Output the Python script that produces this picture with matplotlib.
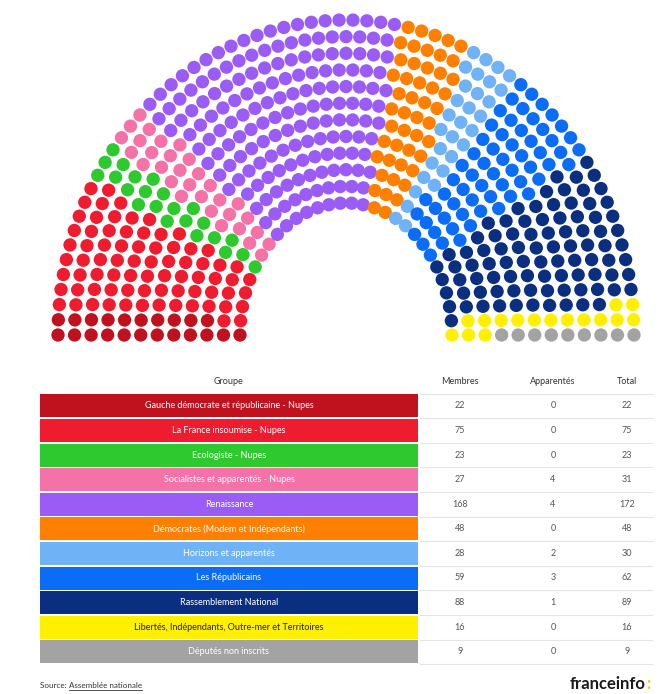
import numpy as np
import matplotlib.pyplot as plt
from matplotlib.patches import Rectangle

groups = [
    "Gauche démocrate et républicaine - Nupes",
    "La France insoumise - Nupes",
    "Ecologiste - Nupes",
    "Socialistes et apparentés - Nupes",
    "Renaissance",
    "Démocrates (Modem et Indépendants)",
    "Horizons et apparentés",
    "Les Républicains",
    "Rassemblement National",
    "Libertés, Indépendants, Outre-mer et Territoires",
    "Députés non inscrits",
]
membres = [22, 75, 23, 27, 168, 48, 28, 59, 88, 16, 9]
apparentes = [0, 0, 0, 4, 4, 0, 2, 3, 1, 0, 0]
totals = [22, 75, 23, 31, 172, 48, 30, 62, 89, 16, 9]
colors = ["#c0111f", "#ee1c2e", "#2ec92e", "#f472a8", "#9a5cf4", "#ff8000",
          "#70b2f6", "#0b6cf5", "#0b2f80", "#fff000", "#a3a3a3"]
text_colors = ["white"] * 9 + ["#222222", "white"]
headers = ["Groupe", "Membres", "Apparentés", "Total"]

plt.rcParams["font.family"] = ["Lato", "DejaVu Sans"]

W, H = 659, 694
fig = plt.figure(figsize=(W / 100, H / 100), dpi=100)
ax = fig.add_axes([0, 0, 1, 1])
ax.set_xlim(0, W)
ax.set_ylim(H, 0)
ax.axis("off")

# Hemicycle
# ---------
n_rows = 12
rel = (3 * n_rows - 2 + 4 * np.arange(1, n_rows + 1)) / (4 * n_rows)
weights = rel / rel.sum() * sum(totals)
counts = np.floor(weights).astype(int)
rest = sum(totals) - counts.sum()
counts[np.argsort(-(weights - counts))[:rest]] += 1

t = (rel - rel[0]) / (rel[-1] - rel[0])
rx = 106 + t * (288 - 106)
ry = 132 + t * (315 - 132)
cx, cy = 346, 335

seats = []
for i, n in enumerate(counts):
    for th in np.linspace(np.pi, 0, n):
        seats.append((-th, i, cx + rx[i] * np.cos(th), cy - ry[i] * np.sin(th)))
seats.sort(key=lambda s: (round(s[0], 9), s[1]))
xs = [s[2] for s in seats]
ys = [s[3] for s in seats]
seat_colors = np.repeat(colors, totals)
ax.scatter(xs, ys, s=92, c=seat_colors, linewidths=0)

# Table
# -----
x0, x1 = 40, 418
col_x = [229, 460, 553, 627]
for x, h in zip(col_x, headers):
    ax.text(x, 381, h, ha="center", va="center", fontsize=6.5, color="#333333")

row_h = 24.6
top = 393.5
ax.plot([420, 652], [top, top], color="#e4e4e4", lw=0.8)
for i, g in enumerate(groups):
    y = top + i * row_h
    ax.add_patch(Rectangle((x0, y + 0.8), x1 - x0, row_h - 1.6, color=colors[i], lw=0))
    yc = y + row_h / 2
    ax.text((x0 + x1) / 2, yc, g, ha="center", va="center", fontsize=6.5, color=text_colors[i])
    for x, v in zip(col_x[1:], [membres[i], apparentes[i], totals[i]]):
        ax.text(x, yc, str(v), ha="center", va="center", fontsize=6.5, color="#555555")
    ax.plot([420, 652], [y + row_h, y + row_h], color="#e4e4e4", lw=0.8)

# Footer
# ------
src = ax.text(40, 685, "Source: ", ha="left", va="center", fontsize=5.8, color="#333333")
fig.canvas.draw()
bb = src.get_window_extent().transformed(ax.transData.inverted())
link = ax.text(bb.x1, 685, "Assemblée nationale", ha="left", va="center", fontsize=5.8, color="#333333")
fig.canvas.draw()
lb = link.get_window_extent().transformed(ax.transData.inverted())
ax.plot([lb.x0, lb.x1], [689.5, 689.5], color="#333333", lw=0.6)

ax.text(645, 684, "franceinfo", ha="right", va="center", fontsize=12, fontweight="bold", color="#1a1a1a")
ax.text(646, 684, ":", ha="left", va="center", fontsize=12, fontweight="bold", color="#ffc20e")

fig.savefig("out.png", dpi=100)
